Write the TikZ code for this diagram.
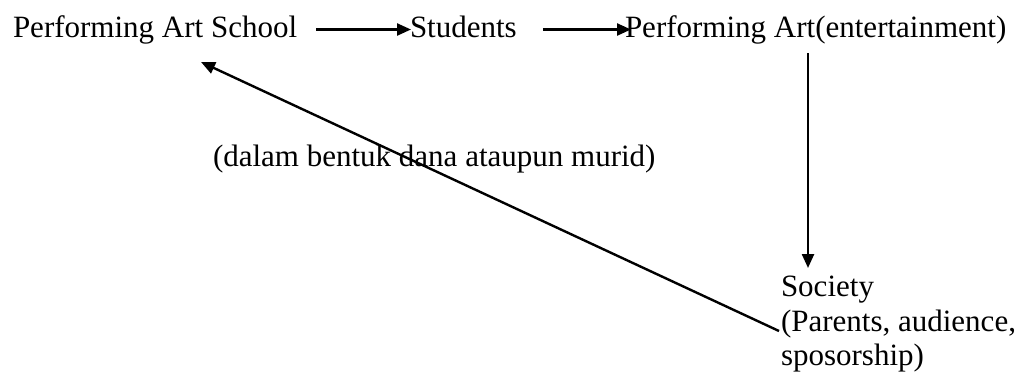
\documentclass[tikz,border=0pt]{standalone}
\usepackage{fontspec}
\setmainfont{Liberation Serif}
\usetikzlibrary{arrows.meta}
\begin{document}
\begin{tikzpicture}[x=1pt,y=-1pt,
  lbl/.style={inner sep=0pt,outer sep=0pt,font=\fontsize{31}{34.5}\selectfont},
  toplbl/.style={lbl,text height=22pt,text depth=7pt},
  arr/.style={line width=2.4pt,-{Triangle[length=14pt,width=12pt]}}]
\useasboundingbox (0,0) rectangle (1024,376);
\node[toplbl,anchor=base west] (school) at (13,37) {Performing Art School};
\node[toplbl,anchor=base west] (students) at (410,37) {Students};
\node[toplbl,anchor=base west] (perf) at (625,37) {Performing Art(entertainment)};
\node[lbl,anchor=north west,align=left] (society) at (781,276) {Society\\(Parents, audience,\\sposorship)};
\node[lbl,anchor=base west] (note) at (213,166) {(dalam bentuk dana ataupun murid)};
\coordinate (vtop) at (808,53);
\coordinate (vbot) at (808,268);
\coordinate (dstart) at (779,331);
\coordinate (dend) at (201,62);
\draw[arr] ([xshift=19pt]school.east) -- ([xshift=1pt]students.west);
\draw[arr] ([xshift=26pt]students.east) -- ([xshift=6pt]perf.west);
\draw[arr] (vtop) -- (vbot);
\draw[arr] (dstart) -- (dend);
\end{tikzpicture}
\end{document}
